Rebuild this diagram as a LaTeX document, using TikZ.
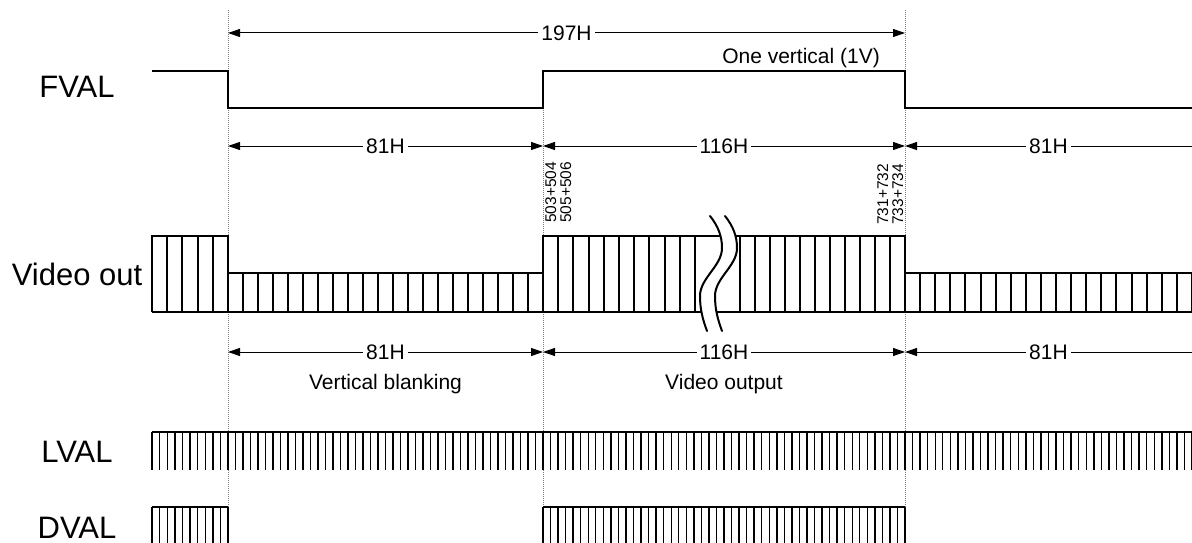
\documentclass[tikz,border=0pt]{standalone}
\usepackage{fontspec}
\setmainfont{Liberation Sans}
\usetikzlibrary{arrows.meta}
\begin{document}
\begin{tikzpicture}[x=1pt,y=-1pt,
  sig/.style={line width=2pt,black,line join=miter},
  tick/.style={line width=1.4pt,black},
  guide/.style={line width=1pt,gray,dash pattern=on 1pt off 1pt},
  dimline/.style={line width=1pt,black},
  both/.style={dimline,{Triangle[length=12pt,width=8pt]}-{Triangle[length=12pt,width=8pt]}},
  lefttip/.style={dimline,{Triangle[length=12pt,width=8pt]}-},
  siglabel/.style={font=\fontsize{31}{31}\selectfont,anchor=base,inner sep=0pt},
  dimlabel/.style={font=\fontsize{21}{21}\selectfont,fill=white,inner xsep=3pt,inner ysep=1pt},
  note/.style={font=\fontsize{21}{21}\selectfont,inner sep=0pt},
  numlabel/.style={font=\fontsize{15.5}{15.5}\selectfont,rotate=90,anchor=base west,inner sep=0pt}
]
\useasboundingbox (0,0) rectangle (1192,543);

% guide lines
\coordinate (gA1) at (228,10);  \coordinate (gA2) at (228,507);
\coordinate (gB1) at (543,108); \coordinate (gB2) at (543,507);
\coordinate (gC1) at (905,10);  \coordinate (gC2) at (905,507);
\draw[guide] (gA1) -- (gA2);
\draw[guide] (gB1) -- (gB2);
\draw[guide] (gC1) -- (gC2);

% signal names
\node[siglabel] (fval) at (77,97) {FVAL};
\node[siglabel] (vout) at (77,285) {Video out};
\node[siglabel] (lval) at (77,462) {LVAL};
\node[siglabel] (dval) at (77,538.5) {DVAL};

% 197H
\coordinate (a1) at (228,33); \coordinate (a2) at (905,33);
\draw[both] (a1) -- (a2) node[dimlabel,midway] (l197) {197H};
\node[note,anchor=base east] (onev) at (880,64) {One vertical (1V)};

% FVAL
\draw[sig] (152,70.7) -- (228,70.7) -- (228,108) -- (543,108) -- (543,70.7)
  -- (905,70.7) -- (905,108) -- (1192,108);

% upper dimensions
\coordinate (u1) at (228,146); \coordinate (u2) at (543,146);
\coordinate (u3) at (905,146); \coordinate (u4) at (1192,146);
\draw[both] (u1) -- (u2) node[dimlabel,midway] (lu1) {81H};
\draw[both] (u2) -- (u3) node[dimlabel,midway] (lu2) {116H};
\draw[lefttip] (u3) -- (u4) node[dimlabel,midway] (lu3) {81H};

% line numbers
\node[numlabel] (n1) at (556,223) {503+504};
\node[numlabel] (n2) at (571,223) {505+506};
\node[numlabel] (n3) at (888,225) {731+732};
\node[numlabel] (n4) at (903,225) {733+734};

% Video out
\draw[sig] (152,312) -- (152,236) -- (228,236) -- (228,273) -- (543,273) -- (543,236)
  -- (905,236) -- (905,273) -- (1192,273);
\draw[sig] (152,312) -- (1192,312);
\foreach \k in {1,...,4} \draw[sig] (152+15.2*\k,236) -- (152+15.2*\k,312);
\draw[sig] (228,236) -- (228,312);
\foreach \k in {1,...,20} \draw[sig] (228+15*\k,273) -- (228+15*\k,312);
\foreach \k in {0,...,10} \draw[sig] (543+15.2*\k,236) -- (543+15.2*\k,312);
\foreach \k in {0,...,11} \draw[sig] (740+15*\k,236) -- (740+15*\k,312);
\foreach \k in {1,...,19} \draw[sig] (905+15.1*\k,273) -- (905+15.1*\k,312);

% break mark
\fill[white] (710,216) .. controls (718,226) and (722,236) .. (722,248)
  .. controls (722,266) and (700,278) .. (700,296)
  .. controls (700,310) and (703,320) .. (707,331)
  -- (722,331) .. controls (718,320) and (715,310) .. (715,296)
  .. controls (715,278) and (737,266) .. (737,248)
  .. controls (737,236) and (733,226) .. (725,216) -- cycle;
\draw[sig,line cap=round] (710,216) .. controls (718,226) and (722,236) .. (722,248)
  .. controls (722,266) and (700,278) .. (700,296)
  .. controls (700,310) and (703,320) .. (707,331);
\draw[sig,line cap=round] (725,216) .. controls (733,226) and (737,236) .. (737,248)
  .. controls (737,266) and (715,278) .. (715,296)
  .. controls (715,310) and (718,320) .. (722,331);

% lower dimensions
\coordinate (d1) at (228,352); \coordinate (d2) at (543,352);
\coordinate (d3) at (905,352); \coordinate (d4) at (1192,352);
\draw[both] (d1) -- (d2) node[dimlabel,midway] (ld1) {81H};
\draw[both] (d2) -- (d3) node[dimlabel,midway] (ld2) {116H};
\draw[lefttip] (d3) -- (d4) node[dimlabel,midway] (ld3) {81H};
\node[note] (vb) at (385.5,384) {Vertical blanking};
\node[note] (vo) at (724,384) {Video output};

% LVAL
\draw[tick] (152,432) -- (1192,432);
\foreach \k in {0,...,10} \draw[tick] (152+7.6*\k,432) -- ++(0,38);
\foreach \k in {1,...,42} \draw[tick] (228+7.5*\k,432) -- ++(0,38);
\foreach \k in {1,...,48} \draw[tick] (543+7.5417*\k,432) -- ++(0,38);
\foreach \k in {1,...,38} \draw[tick] (905+7.5526*\k,432) -- ++(0,38);

% DVAL
\draw[tick] (152,507) -- (228,507);
\foreach \k in {0,...,10} \draw[tick] (152+7.6*\k,507) -- ++(0,36);
\draw[tick] (543,507) -- (905,507);
\foreach \k in {0,...,48} \draw[tick] (543+7.5417*\k,507) -- ++(0,36);
\end{tikzpicture}
\end{document}
